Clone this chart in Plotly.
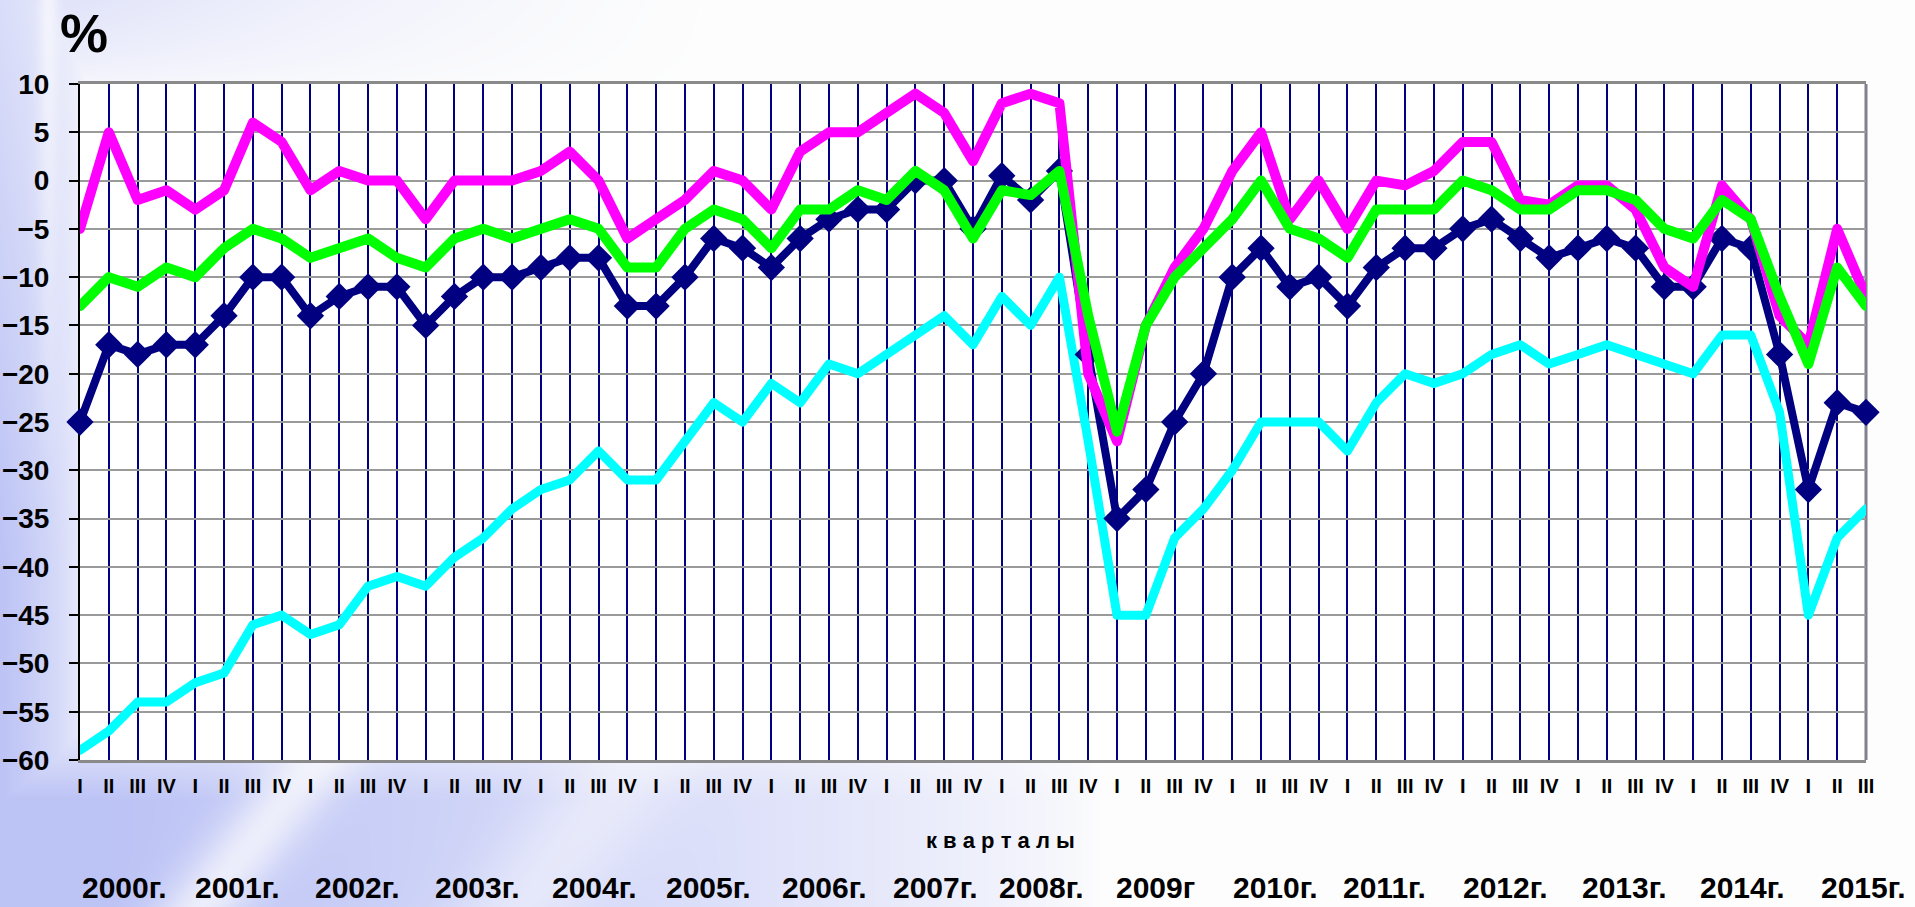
import base64
import struct
import zlib

import numpy as np
import plotly.graph_objects as go

# ---------------------------------------------------------------- data
quarter_names = ["I", "II", "III", "IV"] * 15 + ["I", "II", "III"]

year_labels = ["2000г.", "2001г.", "2002г.", "2003г.", "2004г.", "2005г.",
               "2006г.", "2007г.", "2008г.", "2009г", "2010г.", "2011г.",
               "2012г.", "2013г.", "2014г.", "2015г."]

# balance indicators, % (quarterly, 2000 Q1 .. 2015 Q3)
series_magenta = [-5, 5, -2, -1, -3, -1, 6, 4, -1, 1, 0, 0, -4, 0, 0, 0,
                  1, 3, 0, -6, -4, -2, 1, 0, -3, 3, 5, 5, 7, 9, 7, 2,
                  8, 9, 8, -20, -27, -15, -9, -5, 1, 5, -4, 0, -5, 0, -0.5, 1,
                  4, 4, -2, -2.5, -0.5, -0.5, -3, -9, -11, -0.5, -4, -14, -17, -5, -12]

series_green = [-13, -10, -11, -9, -10, -7, -5, -6, -8, -7, -6, -8, -9, -6, -5, -6,
                -5, -4, -5, -9, -9, -5, -3, -4, -7, -3, -3, -1, -2, 1, -1, -6,
                -1, -1.5, 1, -14, -26, -15, -10, -7, -4, 0, -5, -6, -8, -3, -3, -3,
                0, -1, -3, -3, -1, -1, -2, -5, -6, -2, -4, -12, -19, -9, -13]

series_navy = [-25, -17, -18, -17, -17, -14, -10, -10, -14, -12, -11, -11, -15, -12, -10, -10,
               -9, -8, -8, -13, -13, -10, -6, -7, -9, -6, -4, -3, -3, 0, 0, -5,
               0.5, -2, 1, -18, -35, -32, -25, -20, -10, -7, -11, -10, -13, -9, -7, -7,
               -5, -4, -6, -8, -7, -6, -7, -11, -11, -6, -7, -18, -32, -23, -24]

series_cyan = [-59, -57, -54, -54, -52, -51, -46, -45, -47, -46, -42, -41, -42, -39, -37, -34,
               -32, -31, -28, -31, -31, -27, -23, -25, -21, -23, -19, -20, -18, -16, -14, -17,
               -12, -15, -10, -27, -45, -45, -37, -34, -30, -25, -25, -25, -28, -23, -20, -21,
               -20, -18, -17, -19, -18, -17, -18, -19, -20, -16, -16, -24, -45, -37, -34]

# ---------------------------------------------------------------- layout geometry
FIG_W, FIG_H = 1915, 907
M_L, M_R, M_T, M_B = 80, 49, 84, 147
PLOT_W = FIG_W - M_L - M_R
PLOT_H = FIG_H - M_T - M_B

# horizontal centres of the year captions, in category units
year_label_x = [1.53, 5.47, 9.64, 13.8, 17.87, 21.83, 25.83, 29.7, 33.37,
                37.33, 41.5, 45.3, 49.5, 53.6, 57.7, 61.93]

FONT = "Liberation Sans, Arial, sans-serif"


def paper_x(px):
    return (px - M_L) / PLOT_W


def paper_y(py):
    return (FIG_H - M_B - py) / PLOT_H


# ---------------------------------------------------------------- slide background
def png_data_uri(rgb):
    h, w, _ = rgb.shape
    raw = b"".join(b"\x00" + rgb[r].tobytes() for r in range(h))

    def chunk(tag, data):
        c = struct.pack(">I", len(data)) + tag + data
        return c + struct.pack(">I", zlib.crc32(tag + data) & 0xFFFFFFFF)

    png = (b"\x89PNG\r\n\x1a\n"
           + chunk(b"IHDR", struct.pack(">IIBBBBB", w, h, 8, 2, 0, 0, 0))
           + chunk(b"IDAT", zlib.compress(raw, 9))
           + chunk(b"IEND", b""))
    return "data:image/png;base64," + base64.b64encode(png).decode("ascii")


def slide_background():
    Y, X = np.mgrid[0:FIG_H, 0:FIG_W].astype(float)
    clip = lambda a: np.clip(a, 0.0, 1.0)
    w_left = clip((90 - X) / 90) ** 0.5 * (0.55 + 0.45 * clip(Y / 550))
    w_top = clip((750 - X) / 750) ** 1.5 * clip((90 - Y) / 90) ** 0.5 * 0.5
    w_bot = clip((Y - 690) / 110) * clip((1100 - X) / 1000) ** 0.7
    w = np.maximum(np.maximum(w_left, w_top), w_bot)
    # soft light streaks
    w *= 1 - 0.6 * np.exp(-((X - 48) / 10) ** 2) * clip((500 - Y) / 500)
    d = X - 0.8 * (FIG_H - Y)
    w *= 1 - 0.7 * np.exp(-((d - 200) / 45) ** 2)
    w *= 1 - 0.45 * np.exp(-((d - 520) / 70) ** 2)
    base = np.array([253.0, 253.0, 253.0])
    tint = np.array([188.0, 195.0, 245.0])
    img = base * (1 - w[..., None]) + tint * w[..., None]
    inside = (X >= M_L) & (X <= FIG_W - M_R) & (Y >= M_T) & (Y <= FIG_H - M_B)
    img[inside] = 255.0
    return img.round().astype(np.uint8)


# ---------------------------------------------------------------- figure
x = list(range(len(quarter_names)))

fig = go.Figure()
fig.add_trace(go.Scatter(x=x, y=series_cyan, mode="lines",
                         line=dict(color="#00FFFF", width=9), cliponaxis=False))
fig.add_trace(go.Scatter(x=x, y=series_navy, mode="lines+markers",
                         line=dict(color="#000080", width=8),
                         marker=dict(symbol="diamond", size=21, color="#000080"),
                         cliponaxis=False))
fig.add_trace(go.Scatter(x=x, y=series_magenta, mode="lines",
                         line=dict(color="#FF00FF", width=10), cliponaxis=False))
fig.add_trace(go.Scatter(x=x, y=series_green, mode="lines",
                         line=dict(color="#00FF00", width=10), cliponaxis=False))

fig.update_xaxes(
    range=[0, len(quarter_names) - 1], automargin=False,
    tickmode="array", tickvals=x, ticktext=quarter_names,
    tickfont=dict(family=FONT, size=20, color="black", weight="bold"),
    ticks="", ticklabelstandoff=6,
    showgrid=True, gridcolor="#000080", gridwidth=2,
    showline=True, linecolor="#8a8a8a", linewidth=3, mirror=True,
    zeroline=False, layer="below traces", fixedrange=True,
)
fig.update_yaxes(
    range=[-60, 10], dtick=5, tick0=0, automargin=False,
    tickfont=dict(family=FONT, size=28, color="black", weight="bold"),
    ticks="outside", ticklen=9, tickwidth=2, tickcolor="black",
    ticklabelstandoff=14,
    showgrid=True, gridcolor="#9a9a9a", gridwidth=2,
    showline=True, linecolor="black", linewidth=2,
    zeroline=False, layer="below traces", fixedrange=True,
)

annotations = [
    dict(text="%", x=paper_x(84), y=paper_y(33), xref="paper", yref="paper",
         xanchor="center", yanchor="middle", showarrow=False,
         font=dict(family=FONT, size=54, color="black", weight="bold")),
    dict(text="к в а р т а л ы", x=paper_x(1000), y=paper_y(840),
         xref="paper", yref="paper", xanchor="center", yanchor="middle",
         showarrow=False,
         font=dict(family=FONT, size=22, color="black", weight="bold")),
]
for label, xc in zip(year_labels, year_label_x):
    annotations.append(dict(text=label, x=xc, y=paper_y(887), xref="x", yref="paper",
                            xanchor="center", yanchor="middle", showarrow=False,
                            font=dict(family=FONT, size=30, color="black", weight="bold")))

fig.update_layout(
    width=FIG_W, height=FIG_H,
    margin=dict(l=M_L, r=M_R, t=M_T, b=M_B, pad=0, autoexpand=False),
    paper_bgcolor="white", plot_bgcolor="white",
    showlegend=False,
    annotations=annotations,
    shapes=[dict(type="line", xref="paper", yref="paper", x0=1, x1=1, y0=0, y1=1,
                 line=dict(color="#808090", width=3), layer="between")],
    images=[dict(source=png_data_uri(slide_background()), xref="paper", yref="paper",
                 x=-M_L / PLOT_W, y=1 + M_T / PLOT_H,
                 sizex=FIG_W / PLOT_W, sizey=FIG_H / PLOT_H,
                 xanchor="left", yanchor="top", sizing="stretch", layer="below")],
)

round_joins = ("document.querySelectorAll('.scatterlayer path.js-line').forEach("
               "function(p){p.style.strokeLinejoin='round';p.style.strokeLinecap='round';});")

fig.write_html("out.html", config={"displayModeBar": False}, post_script=round_joins)
